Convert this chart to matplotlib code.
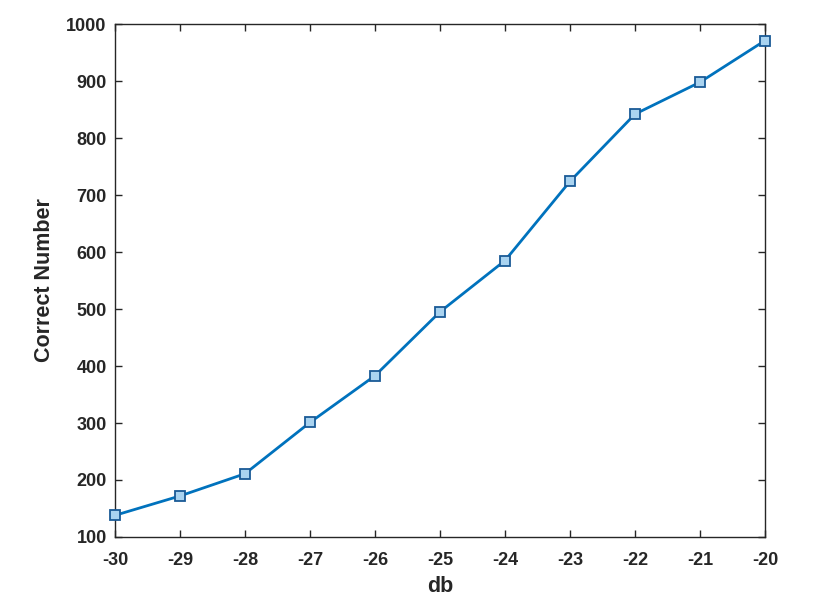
import numpy as np
import matplotlib
matplotlib.use("Agg")
import matplotlib.pyplot as plt

plt.rcParams['font.family'] = ['Liberation Sans', 'DejaVu Sans']
plt.rcParams['font.weight'] = 'bold'
plt.rcParams['axes.unicode_minus'] = False

db = [-30, -29, -28, -27, -26, -25, -24, -23, -22, -21, -20]
correct = [138, 172, 211, 301, 383, 495, 585, 724, 842, 898, 971]

xticks = list(range(-30, -19))
yticks = list(range(100, 1001, 100))

fig = plt.figure(figsize=(8.19, 6.02), dpi=100)
ax = fig.add_axes([0.1404, 0.108, 0.7936, 0.852])

ax.plot(db, correct, color='#0072BD', lw=2.0, marker='s', ms=7.5,
        mfc='#a9d3f0', mec='#1a5a96', mew=1.3, clip_on=False, zorder=3)

ax.set_xlim(-30, -20)
ax.set_ylim(100, 1000)
ax.set_xticks(xticks)
ax.set_yticks(yticks)
ax.tick_params(direction='in', top=True, right=True, length=5, width=1,
               colors='#262626', labelsize=13, pad=6)
ax.tick_params(axis='x', pad=11)
for lab in ax.get_xticklabels() + ax.get_yticklabels():
    lab.set_fontweight('bold')
for s in ax.spines.values():
    s.set_color('#262626')
    s.set_linewidth(1)

ax.set_xlabel('db', fontsize=15.5, fontweight='bold', color='#262626', labelpad=5)
ax.set_ylabel('Correct Number', fontsize=15.5, fontweight='bold', color='#262626', labelpad=8)

fig.savefig('out.png', dpi=100)
